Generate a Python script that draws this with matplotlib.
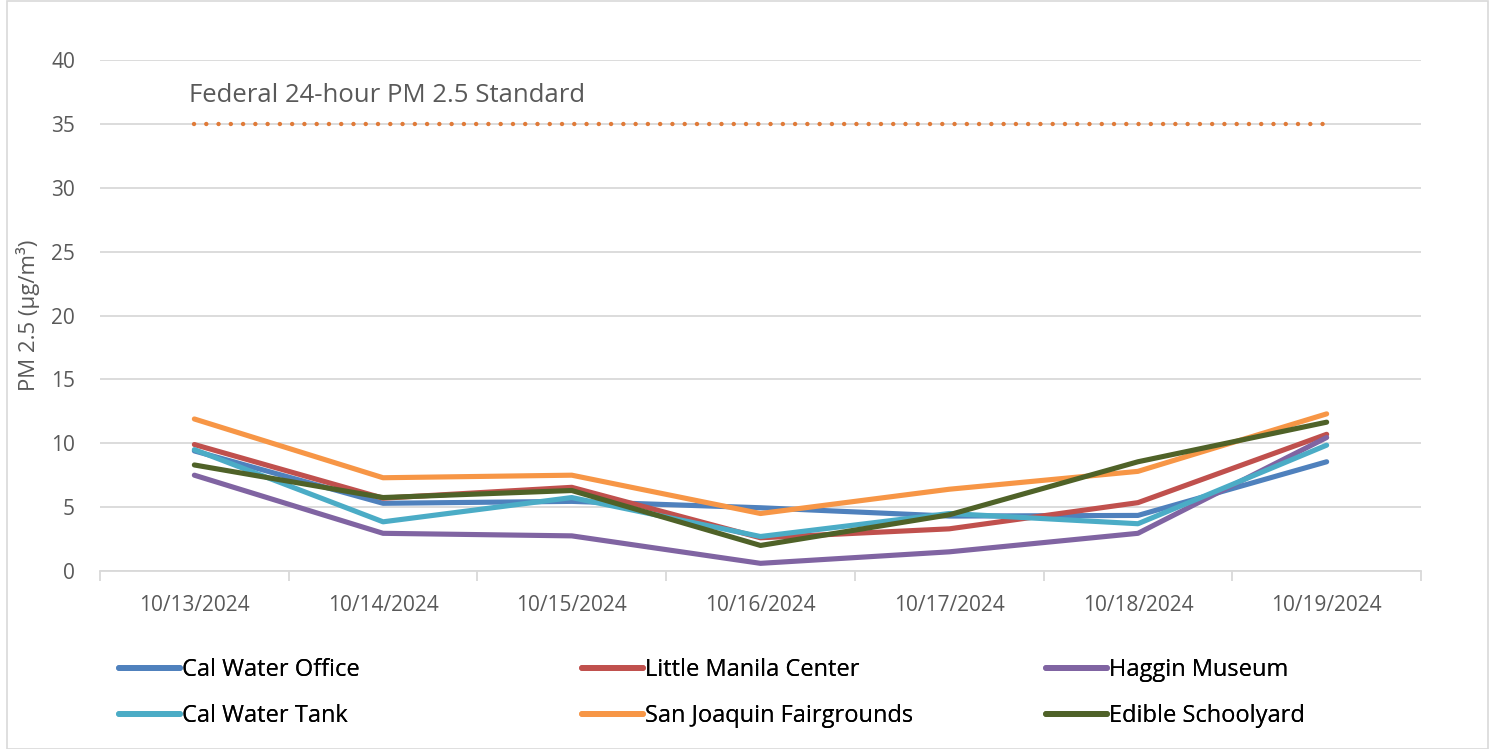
import matplotlib
matplotlib.use("Agg")
import matplotlib.pyplot as plt
from matplotlib.patches import Rectangle

plt.rcParams['font.family'] = ['Open Sans', 'DejaVu Sans']

dates = ["10/13/2024", "10/14/2024", "10/15/2024", "10/16/2024",
         "10/17/2024", "10/18/2024", "10/19/2024"]
cal_water_office = [9.4, 5.3, 5.45, 4.95, 4.3, 4.35, 8.55]
little_manila = [9.9, 5.7, 6.55, 2.6, 3.3, 5.35, 10.7]
haggin_museum = [7.5, 2.95, 2.75, 0.6, 1.5, 2.95, 10.45]
cal_water_tank = [9.5, 3.85, 5.75, 2.7, 4.5, 3.7, 9.85]
san_joaquin = [11.9, 7.3, 7.5, 4.5, 6.4, 7.8, 12.3]
edible_schoolyard = [8.3, 5.75, 6.3, 2.0, 4.4, 8.55, 11.65]
standard = [35] * 7
yticks = [0, 5, 10, 15, 20, 25, 30, 35, 40]

series = [
    ("Cal Water Office", cal_water_office, "#4F81BD"),
    ("Little Manila Center", little_manila, "#C0504D"),
    ("Haggin Museum", haggin_museum, "#8064A2"),
    ("Cal Water Tank", cal_water_tank, "#4BACC6"),
    ("San Joaquin Fairgrounds", san_joaquin, "#F79646"),
    ("Edible Schoolyard", edible_schoolyard, "#4F6228"),
]

W, H = 1490, 749
fig = plt.figure(figsize=(W / 100, H / 100), dpi=100)
fig.patches.append(Rectangle((7 / W, 0), (W - 9) / W, 1 - 1 / H, transform=fig.transFigure,
                             fill=False, edgecolor="#D9D9D9", linewidth=1.2))

ax = fig.add_axes([100 / W, 1 - 571 / H, (1421 - 100) / W, (571 - 60) / H])
x = list(range(len(dates)))

ax.set_xlim(-0.5, len(dates) - 0.5)
ax.set_ylim(0, 40)
ax.set_yticks(yticks)
ax.yaxis.grid(True, color="#D9D9D9", linewidth=1.3)
ax.set_axisbelow(True)
for s in ["top", "right", "left"]:
    ax.spines[s].set_visible(False)
ax.spines["bottom"].set_color("#D9D9D9")
ax.spines["bottom"].set_linewidth(1.3)

ax.set_xticks(x)
ax.set_xticklabels(dates)
ax.set_xticks([i - 0.5 for i in range(len(dates) + 1)], minor=True)
ax.tick_params(axis="x", which="major", length=0, pad=17, labelsize=15, labelcolor="#595959")
ax.tick_params(axis="x", which="minor", length=7, width=1.3, color="#D9D9D9")
ax.tick_params(axis="y", length=0, pad=18, labelsize=15, labelcolor="#595959")

lines = {}
for name, vals, col in series:
    ln, = ax.plot(x, vals, color=col, linewidth=3.7, solid_capstyle="round",
                  solid_joinstyle="round", label=name)
    lines[name] = ln

ax.plot(x, standard, color="#E07B39", linewidth=3.2, linestyle=(0, (0.01, 2.75)),
        dash_capstyle="round")
ax.text(-0.03, 37.2, "Federal 24-hour PM 2.5 Standard", fontsize=18.5, color="#595959",
        ha="left", va="center")

ax.set_ylabel("PM 2.5 (µg/m³)", fontsize=16, color="#595959", labelpad=8)

columns = [["Cal Water Office", "Cal Water Tank"],
           ["Little Manila Center", "San Joaquin Fairgrounds"],
           ["Haggin Museum", "Edible Schoolyard"]]
col_x = [119, 582, 1046]
for names, cx in zip(columns, col_x):
    leg = fig.legend([lines[n] for n in names], names, loc="upper left",
                     bbox_to_anchor=(cx / W, 1 - 658 / H), frameon=False, fontsize=17,
                     handlelength=2.6, handletextpad=0.06, labelspacing=0.93,
                     borderaxespad=0, borderpad=0)
    for ln in leg.get_lines():
        ln.set_linewidth(4.2)
    fig.add_artist(leg)

fig.savefig("out.png", dpi=100)
